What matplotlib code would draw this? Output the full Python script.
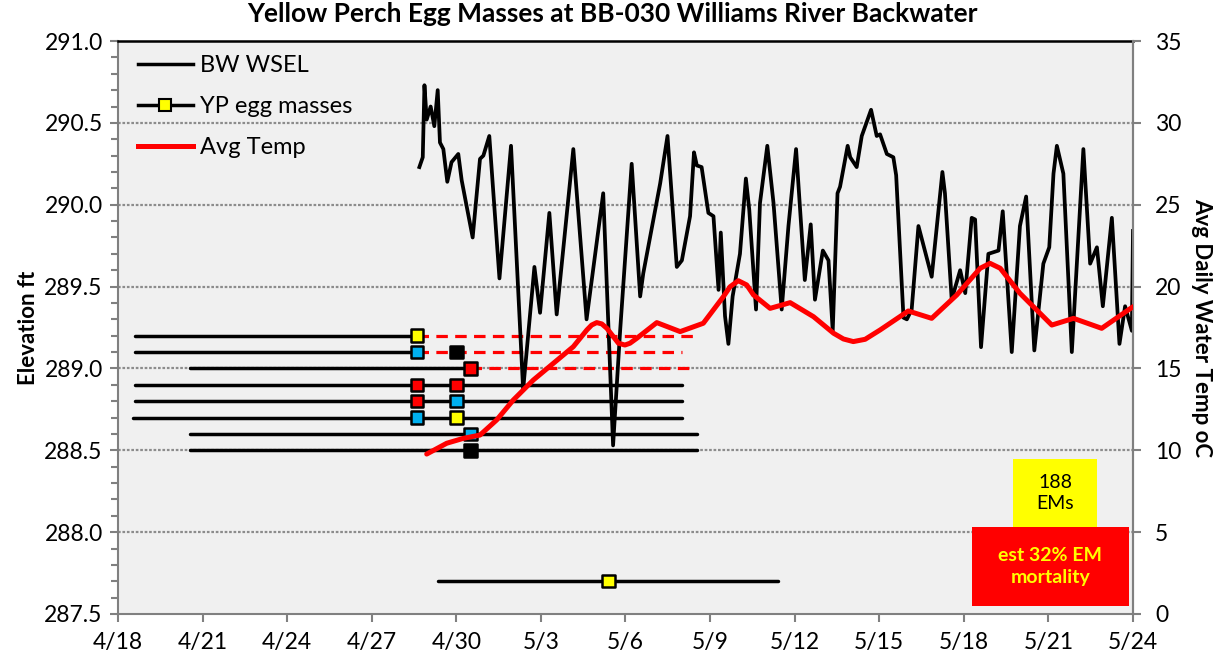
import matplotlib
matplotlib.use("Agg")
import matplotlib.pyplot as plt
from matplotlib.patches import Rectangle
from matplotlib.lines import Line2D
import pandas as pd

plt.rcParams['font.family'] = ['Lato', 'DejaVu Sans']

start = pd.Timestamp('2017-04-18')

# BW water surface elevation (days since 4/18, ft)
wsel_day = [10.69, 10.81, 10.87, 10.95, 11.09, 11.22, 11.34, 11.42, 11.54, 11.68, 11.83, 12.07,
            12.19, 12.39, 12.58, 12.84, 12.96, 13.17, 13.53, 13.94, 14.37, 14.77, 14.97, 15.30,
            15.56, 16.15, 16.62, 17.21, 17.56, 17.81, 18.22, 18.52, 18.63, 19.23, 19.49, 19.82,
            20.00, 20.29, 20.43, 20.53, 20.70, 20.94, 21.12, 21.30, 21.38, 21.53, 21.65, 21.80,
            22.06, 22.27, 22.39, 22.63, 22.77, 23.03, 23.25, 23.54, 23.78, 24.05, 24.36, 24.57,
            24.72, 25.00, 25.20, 25.35, 25.52, 25.61, 25.88, 25.97, 26.20, 26.38, 26.71, 26.91,
            27.03, 27.27, 27.50, 27.60, 27.86, 27.98, 28.15, 28.39, 28.86, 29.24, 29.33, 29.57,
            29.87, 30.05, 30.28, 30.40, 30.61, 30.87, 31.23, 31.38, 31.70, 31.99, 32.21, 32.50,
            32.82, 33.03, 33.18, 33.30, 33.53, 33.83, 34.24, 34.48, 34.72, 34.93, 35.25, 35.52,
            35.72, 35.96, 36.00]
wsel_ft = [290.23, 290.29, 290.73, 290.52, 290.60, 290.48, 290.70, 290.38, 290.34, 290.14, 290.26, 290.31,
           290.15, 289.97, 289.80, 290.28, 290.30, 290.42, 289.55, 290.36, 288.87, 289.62, 289.34, 289.95,
           289.33, 290.34, 289.30, 290.07, 288.53, 289.23, 290.25, 289.44, 289.58, 290.13, 290.42, 289.62,
           289.66, 289.93, 290.32, 290.24, 290.23, 289.95, 289.93, 289.48, 289.83, 289.32, 289.15, 289.44,
           289.70, 290.16, 289.97, 289.36, 290.01, 290.36, 290.01, 289.36, 289.87, 290.34, 289.54, 289.88,
           289.42, 289.72, 289.66, 289.23, 290.07, 290.11, 290.36, 290.29, 290.23, 290.42, 290.58, 290.42,
           290.43, 290.31, 290.29, 290.18, 289.31, 289.30, 289.36, 289.87, 289.56, 290.20, 290.07, 289.42,
           289.60, 289.46, 289.92, 289.91, 289.13, 289.70, 289.72, 289.96, 289.10, 289.87, 290.05, 289.11,
           289.64, 289.74, 290.19, 290.36, 290.19, 289.10, 290.34, 289.64, 289.74, 289.38, 289.92, 289.15,
           289.38, 289.23, 289.84]

# average daily water temperature (oC)
temp_day = [10.95, 11.66, 12.25, 12.84, 13.43, 14.02, 14.73, 15.44, 16.15, 16.63, 16.80, 16.98,
            17.16, 17.34, 17.75, 17.98, 18.16, 18.40, 19.11, 19.94, 20.76, 21.47, 21.71, 22.00,
            22.30, 22.54, 23.13, 23.84, 24.67, 25.38, 25.73, 26.08, 26.50, 27.03, 28.03, 28.86,
            29.75, 30.58, 30.93, 31.29, 31.99, 33.12, 33.89, 34.89, 36.00]
temp_c = [9.77, 10.43, 10.73, 10.93, 11.85, 13.07, 14.29, 15.31, 16.33, 17.35, 17.65, 17.80,
          17.72, 17.45, 16.54, 16.43, 16.54, 16.84, 17.80, 17.25, 17.76, 19.38, 19.99, 20.36,
          20.10, 19.49, 18.67, 19.02, 18.16, 17.15, 16.80, 16.64, 16.78, 17.35, 18.51, 18.06,
          19.49, 21.12, 21.42, 21.12, 19.59, 17.65, 18.06, 17.45, 18.77]

# egg mass rows: elevation, solid span, dashed (estimated) extension
egg_elev = [289.2, 289.1, 289.0, 288.9, 288.8, 288.7, 288.6, 288.5, 287.7]
egg_start = [0.6, 0.6, 2.55, 0.6, 0.6, 0.55, 2.55, 2.55, 11.35]
egg_end = [10.6, 10.6, 12.5, 20.0, 20.0, 20.0, 20.55, 20.55, 23.4]
egg_dash_end = [20.5, 20.0, 20.5, None, None, None, None, None, None]

# egg mass observations
mark_elev = [289.2, 289.1, 289.1, 289.0, 288.9, 288.9, 288.8, 288.8, 288.7, 288.7, 288.6, 288.5, 287.7]
mark_day = [10.6, 10.6, 12.0, 12.5, 10.6, 12.0, 10.6, 12.0, 10.6, 12.0, 12.5, 12.5, 17.4]
mark_color = ['#FFFF00', '#00B0F0', '#000000', '#FF0000', '#FF0000', '#FF0000', '#FF0000',
              '#00B0F0', '#00B0F0', '#FFFF00', '#00B0F0', '#000000', '#FFFF00']

tick_dates = pd.date_range(start, periods=13, freq='3D')


def to_date(days):
    return [start + pd.Timedelta(days=d) for d in days]


fig = plt.figure(figsize=(12.25, 6.65), dpi=100)
ax = fig.add_axes([0.0963, 0.0767, 0.8286, 0.8616])
ax.set_facecolor('#F0F0F0')

for y in [288.0, 288.5, 289.0, 289.5, 290.0, 290.5]:
    ax.axhline(y, color='#8C8C8C', lw=1.6, ls=(0, (1.2, 0.8)), zorder=1)

for el, s, e, de in zip(egg_elev, egg_start, egg_end, egg_dash_end):
    ax.plot(to_date([s, e]), [el, el], color='black', lw=2.5, solid_capstyle='round', zorder=3)
    if de is not None:
        ax.plot(to_date([e, de]), [el, el], color='#FF0000', lw=2.3, ls=(0, (3.6, 2.3)), zorder=3)

ax.plot(to_date(wsel_day), wsel_ft, color='black', lw=2.7, solid_joinstyle='round', zorder=4)

ax.scatter(to_date(mark_day), mark_elev, marker='s', s=80, c=mark_color,
           edgecolors='black', linewidths=1.8, zorder=6)

ax.set_ylim(287.5, 291.0)
ax.set_yticks([287.5, 288.0, 288.5, 289.0, 289.5, 290.0, 290.5, 291.0])
ax.set_yticklabels([f'{v:.1f}' for v in ax.get_yticks()])
ax.set_yticks([287.5 + 0.1 * i for i in range(36)], minor=True)
ax.set_xlim(start, tick_dates[-1])
ax.set_xticks(tick_dates)
ax.set_xticklabels([f'{d.month}/{d.day}' for d in tick_dates])
ax.tick_params(axis='both', which='both', direction='out', colors='#808080', width=1.5,
               labelcolor='black', labelsize=16.5)
ax.tick_params(axis='y', which='major', length=6, pad=5)
ax.tick_params(axis='y', which='minor', length=5)
ax.tick_params(axis='x', length=6, pad=7)
ax.set_ylabel('Elevation ft', fontsize=16, fontweight='bold', labelpad=4)
for side in ['left', 'bottom', 'right']:
    ax.spines[side].set_color('#808080')
    ax.spines[side].set_linewidth(1.5)
ax.spines['top'].set_color('black')
ax.spines['top'].set_linewidth(1.8)

ax2 = ax.twinx()
ax2.plot(to_date(temp_day), temp_c, color='#FF0000', lw=3.6, solid_joinstyle='round',
         solid_capstyle='round', zorder=5)
ax2.set_ylim(0, 35)
ax2.set_yticks(range(0, 36, 5))
ax2.tick_params(axis='y', direction='out', length=6, width=1.5, colors='#808080',
                labelcolor='black', labelsize=16.5, pad=10)
ax2.set_ylabel('Avg Daily Water Temp oC', fontsize=16, fontweight='bold', rotation=270, labelpad=22)
ax2.spines['right'].set_color('#808080')
ax2.spines['right'].set_linewidth(1.5)
ax2.spines['left'].set_visible(False)
ax2.spines['bottom'].set_visible(False)
ax2.spines['top'].set_visible(False)

# annotation boxes
ax2.add_patch(Rectangle((0.882, 0.150), 0.0825, 0.1205, transform=ax2.transAxes,
                        facecolor='#FFFF00', edgecolor='none', zorder=7))
ax2.text(0.9233, 0.2105, '188\nEMs', transform=ax2.transAxes, ha='center', va='center',
         fontsize=14, linespacing=1.3, zorder=8)
ax2.add_patch(Rectangle((0.8414, 0.014), 0.1546, 0.138, transform=ax2.transAxes,
                        facecolor='#FF0000', edgecolor='none', zorder=7))
ax2.text(0.9187, 0.083, 'est 32% EM\nmortality', transform=ax2.transAxes, ha='center', va='center',
         fontsize=14, fontweight='bold', color='#FFFF00', linespacing=1.35, zorder=8)

handles = [Line2D([], [], color='black', lw=2.5),
           Line2D([], [], color='black', lw=2.5, marker='s', markersize=8,
                  markerfacecolor='#FFFF00', markeredgecolor='black', markeredgewidth=1.5),
           Line2D([], [], color='#FF0000', lw=3.6)]
ax2.legend(handles, ['BW WSEL', 'YP egg masses', 'Avg Temp'], loc='upper left',
           bbox_to_anchor=(0.006, 1.0), frameon=False, fontsize=17, labelspacing=0.85,
           handlelength=2.3, handletextpad=0.3, borderaxespad=0.2)

fig.suptitle('Yellow Perch Egg Masses at BB-030 Williams River Backwater',
             fontsize=19, fontweight='bold', y=0.997)

fig.savefig('out.png', dpi=100)
